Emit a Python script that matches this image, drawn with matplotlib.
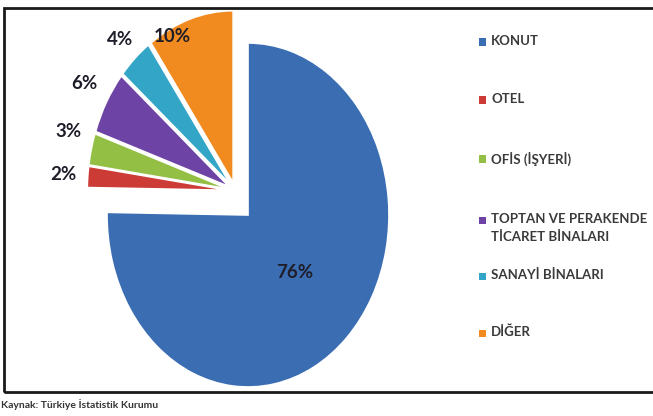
import matplotlib.pyplot as plt
import numpy as np
from matplotlib.patches import Rectangle

# Data
categories = ["KONUT", "OTEL", "OFİS (İŞYERİ)", "TOPTAN VE PERAKENDE\nTİCARET BİNALARI",
              "SANAYİ BİNALARI", "DİĞER"]
values = [76, 2, 3, 6, 4, 10]
pct_labels = [f"{v}%" for v in values]
source = "Kaynak: Türkiye İstatistik Kurumu"

colors = ["#3b6db3", "#cc3b35", "#93bf45", "#6d44a5", "#33a6c8", "#f18b1f"]

W, H = 653, 416
plt.rcParams["font.family"] = ["Lato", "DejaVu Sans"]

fig = plt.figure(figsize=(W / 100, H / 100), dpi=100)
ax = fig.add_axes([0, 0, 1, 1])

explode = [0] + [0.05] * 5
wedges, _ = ax.pie(values, colors=colors, startangle=90, counterclock=False,
                   explode=explode,
                   wedgeprops=dict(edgecolor="white", linewidth=1.2))

# move the small slices together up and to the left
for w in wedges[1:]:
    cx, cy = w.center
    w.set_center((cx - 0.09, cy + 0.14))

# stretched pie: 141 px wide radius, 172 px tall radius, centre at (248, 215)
ax.set_aspect("auto")
ax.set_xlim(-248 / 141, (W - 248) / 141)
ax.set_ylim(-(H - 215) / 172, 215 / 172)
ax.axis("off")

# percentage labels
label_r = [0.47, 1.17, 1.18, 1.19, 1.15, 0.95]
label_turn = [0, 0, -3, -1, 0, 9]
for w, lab, r, t in zip(wedges, pct_labels, label_r, label_turn):
    mid = np.deg2rad((w.theta1 + w.theta2) / 2 + t)
    cx, cy = w.center
    ax.text(cx + r * np.cos(mid), cy + r * np.sin(mid), lab, ha="center",
            va="center", fontsize=13.5, fontweight="bold", color="#1e1e2a")

# legend, drawn by hand
leg_y = [42, 100, 159, 220, 276, 333]
for cat, col, y in zip(categories, colors, leg_y):
    fig.add_artist(Rectangle((479 / W, 1 - (y + 3.5) / H), 7 / W, 7 / H,
                             transform=fig.transFigure, facecolor=col,
                             edgecolor="none"))
    fig.text(491 / W, 1 - (y - 7) / H, cat, ha="left", va="top",
             fontsize=9.5, fontweight="bold", color="#3a3a3a", linespacing=1.6)

# frame
fig.add_artist(Rectangle((4 / W, 24 / H), 1.0, (392 - 8) / H,
                         transform=fig.transFigure, fill=False,
                         edgecolor="#1a1a1a", linewidth=2))

fig.text(1 / W, 1 - 405 / H, source, ha="left", va="center",
         fontsize=7.5, fontweight="bold", color="#333333")

fig.savefig("out.png", dpi=100)
